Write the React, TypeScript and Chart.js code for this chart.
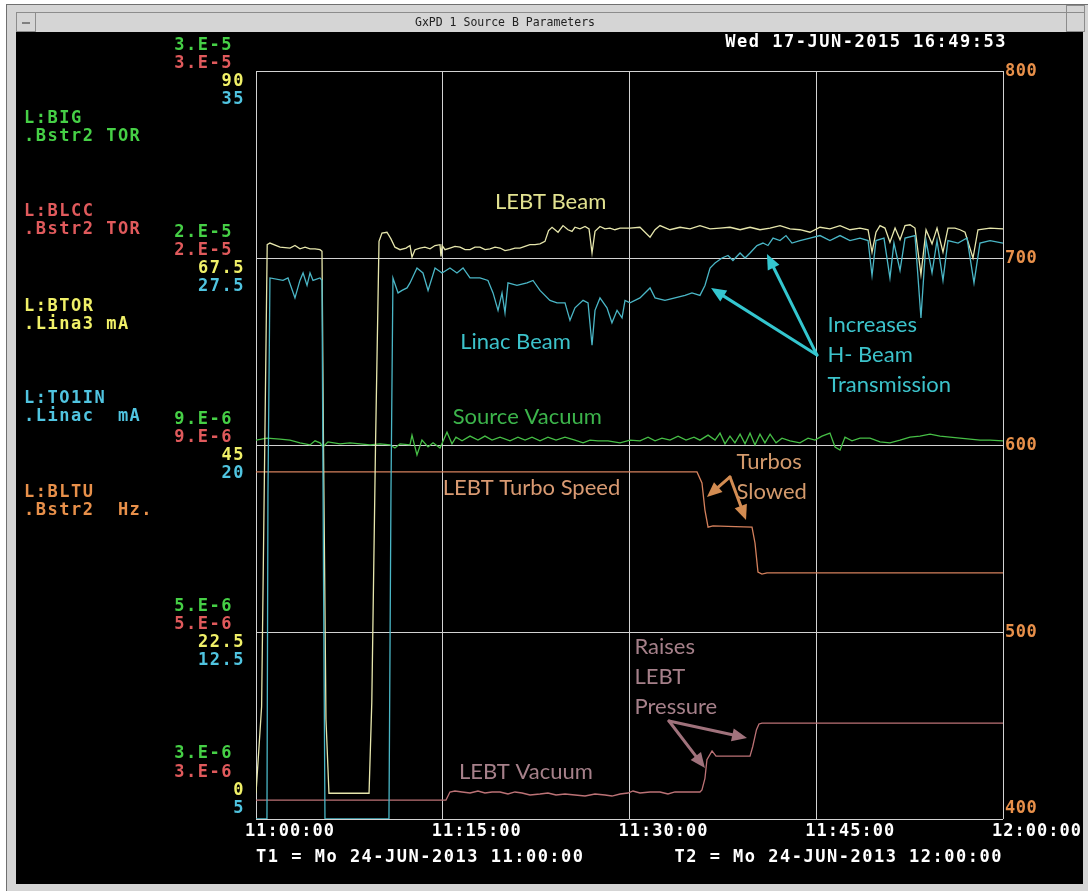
import React, { useEffect, useRef } from 'react';
import { Chart, registerables } from 'chart.js';

Chart.register(...registerables);

// ---------- axis / tick data ----------
const X_TICK_MINUTES = [0, 15, 30, 45, 60];
const X_TICK_LABELS = ['11:00:00', '11:15:00', '11:30:00', '11:45:00', '12:00:00'];
const HZ_TICKS = [800, 700, 600, 500, 400];
const BIG_TICK_LABELS = ['3.E-5', '2.E-5', '9.E-6', '5.E-6', '3.E-6'];
const BLCC_TICK_LABELS = ['3.E-5', '2.E-5', '9.E-6', '5.E-6', '3.E-6'];
const BTOR_TICK_LABELS = ['90', '67.5', '45', '22.5', '0'];
const TO1IN_TICK_LABELS = ['35', '27.5', '20', '12.5', '5'];

const SIGNAL_NAMES = ['L:BIG', 'L:BLCC', 'L:BTOR', 'L:TO1IN', 'L:BLTU'];
const SIGNAL_UNITS = ['.Bstr2 TOR', '.Bstr2 TOR', '.Lina3 mA', '.Linac  mA', '.Bstr2  Hz.'];

const WINDOW_TITLE = 'GxPD 1 Source B Parameters';
const NOW_STAMP = 'Wed 17-JUN-2015 16:49:53';
const T1_LABEL = 'T1 = Mo 24-JUN-2013 11:00:00';
const T2_LABEL = 'T2 = Mo 24-JUN-2013 12:00:00';

// ---------- series: [minutes after 11:00, value] ----------
// L:BTOR  LEBT beam (mA)
const LEBT_BEAM: [number, number][] = [
  [0, 3.1], [0.45, 13.5], [0.9, 69.1], [1.12, 69.3], [1.93, 68.8], [2.73, 68.7], [3.13, 69.0], [3.53, 68.6],
  [3.94, 68.8], [4.34, 68.6], [4.74, 68.6], [5.14, 68.5], [5.3, 68.3], [5.42, 45], [5.62, 12], [5.86, 3.1],
  [9.08, 3.1], [9.3, 14], [9.6, 45], [9.88, 69.5], [10.12, 70.5], [10.52, 70.6], [10.84, 69.8], [11.16, 68.8],
  [11.57, 68.5], [12.05, 68.7], [12.37, 69.0], [12.53, 67.6], [12.77, 68.5], [13.17, 68.7], [13.57, 68.8],
  [13.98, 68.6], [14.38, 69.0], [14.78, 69.1], [14.86, 67.7], [14.95, 69.0], [15.18, 68.5], [15.58, 68.7],
  [15.98, 68.9], [16.39, 68.8], [16.79, 68.5], [17.19, 68.5], [17.59, 68.8], [17.99, 68.8], [18.4, 68.5],
  [18.8, 68.6], [19.2, 68.8], [19.6, 68.7], [20.0, 68.4], [20.4, 68.5], [20.8, 68.7], [21.2, 68.7], [21.6, 68.9],
  [22.0, 69.1], [22.41, 69.1], [22.81, 69.2], [23.21, 69.5], [23.5, 70.8], [23.78, 71.2], [24.26, 70.6],
  [24.66, 71.4], [25.06, 70.9], [25.38, 70.7], [25.62, 71.2], [26.02, 71.0], [26.43, 71.3], [26.75, 71.0],
  [26.99, 68.1], [27.23, 70.7], [27.63, 71.3], [28.03, 71.0], [28.43, 71.1], [28.83, 70.9], [29.24, 71.1],
  [30.04, 71.1], [30.84, 71.2], [31.65, 70.0], [32.05, 70.9], [32.45, 71.4], [33.25, 70.9], [34.06, 71.2],
  [34.86, 71.0], [35.66, 71.4], [36.47, 71.0], [37.27, 71.1], [38.07, 71.2], [38.88, 70.9], [39.68, 71.2],
  [40.48, 70.9], [41.29, 71.1], [42.09, 71.4], [42.89, 71.0], [43.69, 70.9], [44.5, 70.6], [45.3, 71.2],
  [46.1, 71.0], [46.91, 71.4], [47.71, 70.9], [48.51, 71.1], [49.16, 70.9], [49.48, 68.2], [49.8, 70.6],
  [50.12, 71.4], [50.52, 71.1], [50.92, 69.4], [51.33, 71.1], [51.73, 69.7], [52.13, 71.4], [52.53, 71.5],
  [52.93, 71.1], [53.41, 65.5], [53.82, 70.9], [54.3, 69.2], [54.7, 71.1], [55.18, 68.2], [55.58, 71.1],
  [56.14, 71.1], [56.55, 70.9], [56.95, 70.6], [57.59, 67.5], [57.99, 70.9], [58.96, 71.1], [60, 71.0],
];

// L:TO1IN  Linac beam (mA)
const LINAC_BEAM: [number, number][] = [
  [0, 5.0], [0.88, 5.0], [0.96, 18], [1.12, 26.7], [2.17, 26.6], [2.57, 26.7], [3.13, 25.9], [3.53, 26.6],
  [3.78, 26.9], [4.1, 26.4], [4.34, 26.9], [4.58, 26.6], [5.14, 26.7], [5.3, 26.6], [5.42, 15], [5.54, 5.0],
  [10.68, 5.0], [10.84, 18], [11.0, 26.7], [11.41, 26.1], [11.73, 26.2], [12.13, 26.3], [12.37, 26.5],
  [12.93, 27.1], [13.41, 26.9], [13.82, 26.2], [14.38, 27.1], [14.94, 26.9], [15.58, 27.1], [16.14, 26.9],
  [16.63, 27.1], [17.19, 26.7], [17.99, 26.7], [18.63, 26.6], [19.04, 26.1], [19.44, 25.4], [19.76, 26.1],
  [20.0, 25.3], [20.24, 26.5], [20.96, 26.4], [21.77, 26.5], [22.25, 26.6], [22.81, 26.2], [23.61, 25.8],
  [24.18, 25.7], [24.82, 25.7], [25.22, 25.0], [25.62, 25.5], [26.27, 25.8], [26.67, 25.7], [26.99, 24.0],
  [27.23, 25.4], [27.63, 25.9], [28.19, 25.5], [28.59, 24.9], [29.0, 25.4], [29.4, 25.1], [29.64, 25.8],
  [30.04, 25.7], [30.84, 25.9], [31.65, 26.3], [32.05, 25.9], [32.85, 25.8], [33.65, 25.9], [34.46, 26.0],
  [35.02, 26.1], [35.66, 26.0], [36.06, 26.4], [36.47, 27.1], [36.87, 27.3], [37.43, 27.5], [37.91, 27.6],
  [38.31, 27.4], [38.88, 27.7], [39.28, 27.5], [39.68, 27.7], [40.24, 28.0], [40.72, 28.1], [41.12, 28.0],
  [41.53, 28.3], [42.09, 28.2], [42.57, 28.4], [43.05, 28.1], [43.69, 28.2], [44.5, 28.3], [45.3, 28.4],
  [46.1, 28.2], [46.91, 28.4], [47.71, 28.2], [48.51, 28.3], [49.16, 28.2], [49.48, 26.8], [49.8, 28.2],
  [50.44, 28.3], [50.92, 26.7], [51.24, 28.1], [51.73, 27.0], [52.13, 28.3], [52.93, 28.4], [53.41, 25.1],
  [53.82, 28.2], [54.3, 26.9], [54.7, 28.2], [55.18, 26.6], [55.58, 28.2], [56.39, 28.1], [57.11, 28.3],
  [57.67, 26.5], [58.15, 28.1], [58.96, 28.2], [60, 28.1],
];

// L:BIG  Source vacuum (Torr)
const SOURCE_VACUUM: [number, number][] = [
  [0, 9.63e-6], [0.88, 9.69e-6], [1.93, 9.66e-6], [2.73, 9.63e-6], [3.53, 9.55e-6], [4.34, 9.49e-6],
  [4.74, 9.61e-6], [5.14, 9.55e-6], [5.38, 9.43e-6], [5.78, 9.58e-6], [6.75, 9.52e-6], [7.55, 9.55e-6],
  [8.35, 9.52e-6], [9.16, 9.49e-6], [9.96, 9.52e-6], [10.76, 9.49e-6], [11.16, 9.40e-6], [11.57, 9.52e-6],
  [12.37, 9.49e-6], [12.53, 9.78e-6], [12.93, 9.20e-6], [13.33, 9.63e-6], [13.82, 9.43e-6], [14.22, 9.55e-6],
  [14.78, 9.40e-6], [15.34, 9.87e-6], [15.74, 9.52e-6], [16.06, 9.72e-6], [16.55, 9.61e-6], [17.19, 9.75e-6],
  [17.83, 9.63e-6], [18.39, 9.75e-6], [18.96, 9.63e-6], [19.6, 9.72e-6], [20.4, 9.61e-6], [21.04, 9.72e-6],
  [21.61, 9.63e-6], [22.17, 9.72e-6], [22.81, 9.61e-6], [23.45, 9.72e-6], [24.1, 9.63e-6], [24.82, 9.72e-6],
  [25.62, 9.63e-6], [26.27, 9.55e-6], [26.83, 9.63e-6], [27.47, 9.61e-6], [28.27, 9.61e-6], [29.24, 9.55e-6],
  [30.04, 9.63e-6], [30.84, 9.61e-6], [31.49, 9.72e-6], [32.05, 9.61e-6], [32.61, 9.69e-6], [33.25, 9.63e-6],
  [33.9, 9.75e-6], [34.54, 9.63e-6], [35.18, 9.72e-6], [35.66, 9.63e-6], [36.31, 9.78e-6], [36.87, 9.63e-6],
  [37.27, 9.84e-6], [37.67, 9.52e-6], [38.07, 9.75e-6], [38.47, 9.55e-6], [38.88, 9.81e-6], [39.28, 9.52e-6],
  [39.68, 9.84e-6], [40.08, 9.49e-6], [40.48, 9.81e-6], [40.88, 9.55e-6], [41.29, 9.81e-6], [41.77, 9.55e-6],
  [42.25, 9.69e-6], [42.89, 9.61e-6], [43.69, 9.55e-6], [44.34, 9.69e-6], [44.9, 9.63e-6], [45.46, 9.75e-6],
  [46.1, 9.84e-6], [46.51, 9.43e-6], [46.91, 9.34e-6], [47.31, 9.72e-6], [47.87, 9.61e-6], [48.51, 9.69e-6],
  [49.32, 9.69e-6], [50.12, 9.58e-6], [50.92, 9.55e-6], [51.73, 9.63e-6], [52.53, 9.72e-6], [53.33, 9.75e-6],
  [54.14, 9.81e-6], [54.94, 9.75e-6], [55.74, 9.72e-6], [56.55, 9.69e-6], [57.35, 9.66e-6], [58.15, 9.63e-6],
  [58.96, 9.63e-6], [60, 9.61e-6],
];

// L:BLCC  LEBT vacuum (Torr)
const LEBT_VACUUM: [number, number][] = [
  [0, 3.18e-6], [15.26, 3.18e-6], [15.58, 3.26e-6], [15.98, 3.27e-6], [16.55, 3.26e-6], [17.19, 3.25e-6],
  [17.83, 3.27e-6], [18.39, 3.25e-6], [18.96, 3.26e-6], [19.6, 3.26e-6], [20.24, 3.24e-6], [20.8, 3.26e-6],
  [21.37, 3.25e-6], [22.01, 3.23e-6], [22.81, 3.24e-6], [23.45, 3.25e-6], [24.1, 3.23e-6], [24.82, 3.24e-6],
  [25.62, 3.23e-6], [26.43, 3.22e-6], [27.23, 3.24e-6], [28.03, 3.23e-6], [28.59, 3.22e-6], [29.24, 3.24e-6],
  [29.88, 3.25e-6], [30.28, 3.27e-6], [30.84, 3.25e-6], [31.65, 3.26e-6], [32.45, 3.26e-6], [33.09, 3.24e-6],
  [33.65, 3.26e-6], [34.86, 3.26e-6], [35.66, 3.26e-6], [35.82, 3.28e-6], [36.06, 3.40e-6], [36.22, 3.60e-6],
  [36.63, 3.70e-6], [36.95, 3.64e-6], [37.67, 3.64e-6], [38.88, 3.64e-6], [39.68, 3.64e-6], [39.9, 3.75e-6],
  [40.2, 3.95e-6], [40.4, 4.02e-6], [40.64, 4.03e-6], [60, 4.03e-6],
];

// L:BLTU  LEBT turbo speed (Hz)
const TURBO_SPEED: [number, number][] = [
  [0, 585.6], [35.42, 585.6], [35.82, 579.7], [36.06, 565.2], [36.31, 556.1], [36.71, 556.7], [38.5, 556.4],
  [39.84, 556.1], [40.08, 547.6], [40.32, 532.1], [40.64, 531.0], [41.04, 531.6], [60, 531.6],
];

// ---------- annotations (placed in minutes / Hz-axis units) ----------
const ANNOTATION_TEXT = ['LEBT Beam', 'Linac Beam', 'Source Vacuum', 'LEBT Turbo Speed', 'Turbos', 'Slowed',
  'Increases', 'H- Beam', 'Transmission', 'Raises', 'LEBT', 'Pressure', 'LEBT Vacuum'];
const ANNOTATION_T = [19.2, 16.4, 15.8, 15.0, 38.6, 38.6, 45.9, 45.9, 45.9, 30.4, 30.4, 30.4, 16.3];
const ANNOTATION_V = [730, 655, 615, 577, 591, 575, 664, 648, 632, 492, 476, 460, 425];
const ANNOTATION_COLOR = ['#e2e290', '#3cc3cb', '#3cb44b', '#d99a72', '#d49a6c', '#d49a6c',
  '#3cc3cb', '#3cc3cb', '#3cc3cb', '#a6808a', '#a6808a', '#a6808a', '#a6808a'];

const ARROW_FROM: [number, number][] = [[45.06, 648.1], [45.06, 648.1], [38.07, 582.9], [38.07, 582.9], [33.17, 452.4], [33.17, 452.4]];
const ARROW_TO: [number, number][] = [[36.55, 683.9], [41.04, 702.1], [36.22, 572.2], [39.36, 559.9], [36.06, 427.3], [39.44, 443.3]];
const ARROW_COLOR = ['#34c6cf', '#34c6cf', '#d38c52', '#d38c52', '#a0727c', '#a0727c'];

const MONO = '"DejaVu Sans Mono", "Liberation Mono", monospace';
const SANS = 'Lato, "Open Sans", sans-serif';

const C_GREEN = '#46d046';
const C_RED = '#e05a5c';
const C_YELLOW = '#f0f068';
const C_CYAN = '#50c4e0';
const C_ORANGE = '#e8904a';

function drawArrow(ctx: CanvasRenderingContext2D, x1: number, y1: number, x2: number, y2: number, color: string) {
  const ang = Math.atan2(y2 - y1, x2 - x1);
  const head = 15;
  const half = 6.5;
  const bx = x2 - head * Math.cos(ang);
  const by = y2 - head * Math.sin(ang);
  ctx.save();
  ctx.strokeStyle = color;
  ctx.fillStyle = color;
  ctx.lineWidth = 3;
  ctx.lineCap = 'round';
  ctx.beginPath();
  ctx.moveTo(x1, y1);
  ctx.lineTo(bx, by);
  ctx.stroke();
  ctx.beginPath();
  ctx.moveTo(x2, y2);
  ctx.lineTo(bx + half * Math.sin(ang), by - half * Math.cos(ang));
  ctx.lineTo(bx - half * Math.sin(ang), by + half * Math.cos(ang));
  ctx.closePath();
  ctx.fill();
  ctx.restore();
}

const overlayPlugin = {
  id: 'gxpdOverlay',
  beforeDraw(chart: any) {
    const { ctx, width, height } = chart;
    ctx.save();
    ctx.fillStyle = '#ffffff';
    ctx.fillRect(0, 0, width, height);
    ctx.fillStyle = '#d5d5d5';
    ctx.fillRect(6, 4, width - 6, height - 4);
    ctx.fillStyle = '#707070';
    ctx.fillRect(6, 4, 1, height - 4);
    ctx.fillRect(6, 4, width - 6, 1);
    ctx.fillStyle = '#8c8c8c';
    ctx.fillRect(16, 12, width - 20, 1);
    ctx.strokeStyle = '#8c8c8c';
    ctx.lineWidth = 1;
    ctx.strokeRect(16.5, 12.5, 19, 19);
    ctx.strokeRect(1066.5, 5.5, 18, 26);
    ctx.fillStyle = '#808080';
    ctx.fillRect(22, 22, 8, 2);
    ctx.fillStyle = '#000000';
    ctx.fillRect(16, 32, 1067, 852);
    ctx.fillStyle = '#222222';
    ctx.font = `11.5px ${MONO}`;
    ctx.textAlign = 'center';
    ctx.textBaseline = 'middle';
    ctx.fillText(WINDOW_TITLE, 505, 23);
    ctx.restore();
  },
  afterDraw(chart: any) {
    const { ctx, chartArea } = chart;
    const xs = chart.scales.x;
    const yHz = chart.scales.yHz;
    ctx.save();
    ctx.textBaseline = 'middle';
    ctx.font = `bold 17px ${MONO}`;
    (ctx as any).letterSpacing = '1.5px';

    // signal legend at the left
    const legendColors = [C_GREEN, C_RED, C_YELLOW, C_CYAN, C_ORANGE];
    const legendY = [119, 212, 307, 399, 493];
    SIGNAL_NAMES.forEach((name, i) => {
      ctx.fillStyle = legendColors[i];
      ctx.textAlign = 'left';
      ctx.fillText(name, 24, legendY[i]);
      ctx.fillText(SIGNAL_UNITS[i], 24, legendY[i] + 18);
    });

    // stacked left-axis labels
    HZ_TICKS.forEach((hz, i) => {
      const py = yHz.getPixelForValue(hz);
      const last = i === HZ_TICKS.length - 1;
      const off = last ? [-65, -46, -28, -10] : [-25, -7, 11, 29];
      ctx.textAlign = 'right';
      ctx.fillStyle = C_GREEN;
      ctx.fillText(BIG_TICK_LABELS[i], 233, py + off[0]);
      ctx.fillStyle = C_RED;
      ctx.fillText(BLCC_TICK_LABELS[i], 233, py + off[1]);
      ctx.fillStyle = C_YELLOW;
      ctx.fillText(BTOR_TICK_LABELS[i], 245, py + off[2]);
      ctx.fillStyle = C_CYAN;
      ctx.fillText(TO1IN_TICK_LABELS[i], 245, py + off[3]);
      // right axis (Hz)
      ctx.textAlign = 'left';
      (ctx as any).letterSpacing = '0.5px';
      ctx.fillStyle = C_ORANGE;
      ctx.fillText(String(hz), chartArea.right + 2, last ? py - 10 : py + 1);
      (ctx as any).letterSpacing = '1.5px';
    });

    // time axis
    ctx.fillStyle = '#ffffff';
    (ctx as any).letterSpacing = '1px';
    ctx.textAlign = 'left';
    X_TICK_MINUTES.forEach((m, i) => {
      ctx.fillText(X_TICK_LABELS[i], xs.getPixelForValue(m) - 11, chartArea.bottom + 13);
    });
    (ctx as any).letterSpacing = '1.5px';
    ctx.textAlign = 'left';
    ctx.fillText(T1_LABEL, chartArea.left, chartArea.bottom + 39);
    ctx.textAlign = 'right';
    ctx.fillText(T2_LABEL, chartArea.right, chartArea.bottom + 39);
    ctx.fillText(NOW_STAMP, chartArea.right + 4, 43);

    // annotations
    (ctx as any).letterSpacing = '0px';
    ctx.font = `22px ${SANS}`;
    ctx.textAlign = 'left';
    ANNOTATION_TEXT.forEach((t, i) => {
      ctx.fillStyle = ANNOTATION_COLOR[i];
      ctx.fillText(t, xs.getPixelForValue(ANNOTATION_T[i]), yHz.getPixelForValue(ANNOTATION_V[i]));
    });
    ARROW_FROM.forEach((f, i) => {
      const t = ARROW_TO[i];
      drawArrow(ctx, xs.getPixelForValue(f[0]), yHz.getPixelForValue(f[1]),
        xs.getPixelForValue(t[0]), yHz.getPixelForValue(t[1]), ARROW_COLOR[i]);
    });
    ctx.restore();
  },
};

const toXY = (arr: [number, number][]) => arr.map(([x, y]) => ({ x, y }));

export default function App() {
  const canvasRef = useRef<HTMLCanvasElement | null>(null);

  useEffect(() => {
    const canvas = canvasRef.current;
    if (!canvas) return;
    const line = { pointRadius: 0, borderWidth: 1.3, tension: 0, fill: false };
    const chart = new Chart(canvas, {
      type: 'line',
      data: {
        datasets: [
          { ...line, label: 'L:TO1IN', data: toXY(LINAC_BEAM), yAxisID: 'yLinac', borderColor: '#4ab6c6' },
          { ...line, label: 'L:BTOR', data: toXY(LEBT_BEAM), yAxisID: 'yBeam', borderColor: '#e6e6ac' },
          { ...line, label: 'L:BIG', data: toXY(SOURCE_VACUUM), yAxisID: 'yVac', borderColor: '#46be46' },
          { ...line, label: 'L:BLTU', data: toXY(TURBO_SPEED), yAxisID: 'yHz', borderColor: '#d4805c' },
          { ...line, label: 'L:BLCC', data: toXY(LEBT_VACUUM), yAxisID: 'yVac', borderColor: '#bc7276' },
        ],
      },
      options: {
        animation: false,
        responsive: false,
        maintainAspectRatio: false,
        events: [],
        layout: { padding: { left: 256, top: 71, right: 85, bottom: 72 } },
        plugins: {
          legend: { display: false },
          tooltip: { enabled: false },
          title: { display: false },
        },
        scales: {
          x: {
            type: 'linear',
            min: 0,
            max: 60,
            ticks: { display: false, stepSize: 15 },
            grid: { color: '#d2d2d2', lineWidth: 1, drawTicks: false },
            border: { display: false },
          },
          yHz: {
            type: 'linear',
            position: 'right',
            min: 400,
            max: 800,
            ticks: { display: false, stepSize: 100 },
            grid: { color: '#d2d2d2', lineWidth: 1, drawTicks: false },
            border: { display: false },
          },
          yBeam: { type: 'linear', display: false, min: 0, max: 90 },
          yLinac: { type: 'linear', display: false, min: 5, max: 35 },
          yVac: { type: 'logarithmic', display: false, min: 3e-6, max: 3e-5 },
        },
      },
      plugins: [overlayPlugin],
    } as any);
    return () => chart.destroy();
  }, []);

  return (
    <div style={{ position: 'fixed', left: 0, top: 0, width: 1088, height: 891, background: '#fff' }}>
      <canvas ref={canvasRef} width={1088} height={891} style={{ display: 'block' }} />
    </div>
  );
}
